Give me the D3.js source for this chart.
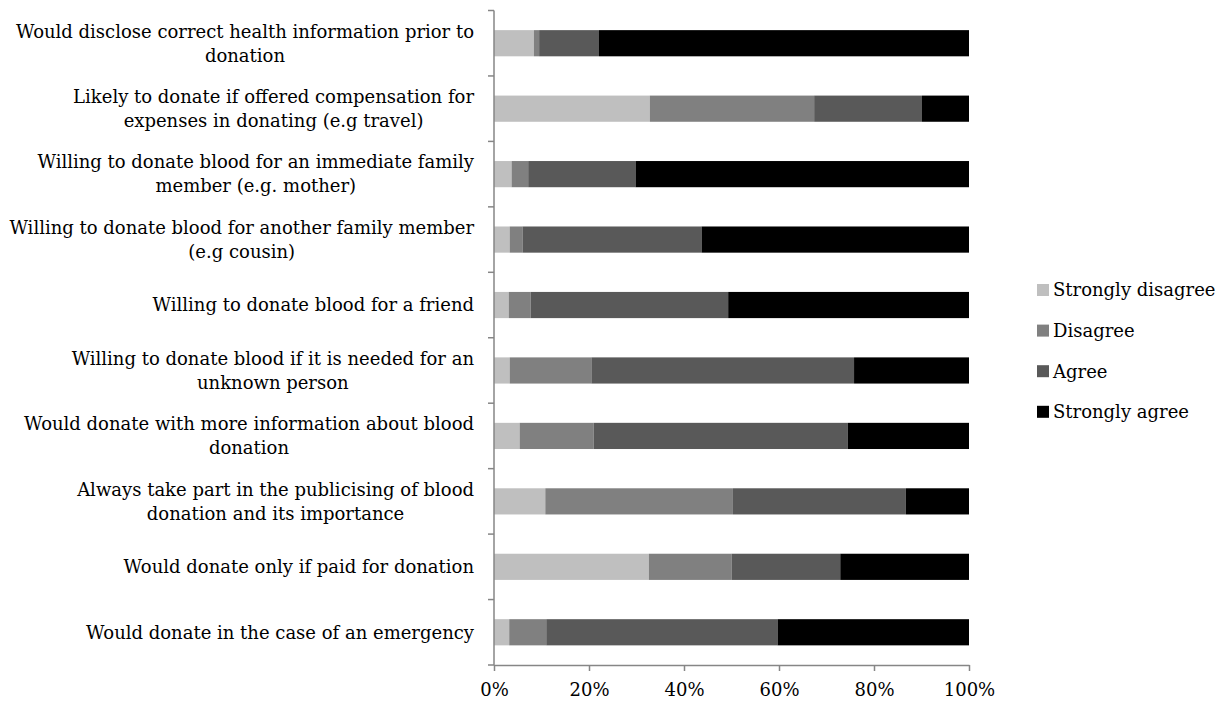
<!DOCTYPE html>
<html><head><meta charset="utf-8">
<script src="https://cdn.jsdelivr.net/npm/d3@7"></script>
<style>body{margin:0;background:#fff}svg{display:block}text{font-family:"DejaVu Serif",serif;fill:#000}</style>
</head><body><svg id="c" width="1223" height="704"></svg>
<script>
const categories = [
  ["Would disclose correct health information prior to","donation"],
  ["Likely to donate if offered compensation for","expenses in donating (e.g travel)"],
  ["Willing to donate blood for an immediate family","member (e.g. mother)"],
  ["Willing to donate blood for another family member","(e.g cousin)"],
  ["Willing to donate blood for a friend"],
  ["Willing to donate blood if it is needed for an","unknown person"],
  ["Would donate with more information about blood","donation"],
  ["Always take part in the publicising of blood","donation and its importance"],
  ["Would donate only if paid for donation"],
  ["Would donate in the case of an emergency"]
];
const seriesNames = ["Strongly disagree","Disagree","Agree","Strongly agree"];
const stronglyDisagree = [8.4,32.8,3.7,3.3,3.1,3.3,5.4,10.8,32.6,3.2];
const disagree         = [1.1,34.6,3.5,2.7,4.6,17.2,15.6,39.5,17.4,7.8];
const agree            = [12.6,22.7,22.6,37.7,41.6,55.3,53.5,36.4,22.9,48.7];
const stronglyAgree    = [77.9,9.9,70.2,56.3,50.7,24.2,25.5,13.3,27.1,40.3];
const xTicks = [0,0.2,0.4,0.6,0.8,1];
const colors = ["#bfbfbf","#808080","#595959","#000000"];

const svg = d3.select("#c");
const x0 = 494, x1 = 969, y0 = 10.5, y1 = 665;
const fs = 18;
const rows = categories.map((c,i)=>{
  const vals=[stronglyDisagree[i],disagree[i],agree[i],stronglyAgree[i]];
  const tot=d3.sum(vals);
  const o={key:i};
  seriesNames.forEach((s,j)=>o[s]=vals[j]/tot);
  return o;
});
const x = d3.scaleLinear().domain([0,1]).range([x0,x1]);
const y = d3.scaleBand().domain(d3.range(categories.length)).range([y0,y1]).paddingInner(0.6).paddingOuter(0.3);
const stack = d3.stack().keys(seriesNames)(rows);

const g = svg.append("g");
stack.forEach((layer,j)=>{
  g.selectAll(null).data(layer).enter().append("rect")
    .attr("x",d=>x(d[0])).attr("width",d=>x(d[1])-x(d[0]))
    .attr("y",(d,i)=>y(i)).attr("height",y.bandwidth())
    .attr("fill",colors[j]);
});

// y axis
const yAxis = svg.append("g");
yAxis.append("line").attr("x1",x0).attr("x2",x0).attr("y1",y0).attr("y2",y1).attr("stroke","#868686").attr("stroke-width",1.5);
const step = (y1-y0)/categories.length;
d3.range(categories.length+1).forEach(k=>{
  yAxis.append("line").attr("x1",x0-6).attr("x2",x0).attr("y1",y0+k*step).attr("y2",y0+k*step).attr("stroke","#868686").attr("stroke-width",1.5);
});
// x axis
const xa = svg.append("g").attr("transform",`translate(0,${y1})`)
  .call(d3.axisBottom(x).tickValues(xTicks).tickFormat(d3.format(".0%")).tickSize(6).tickSizeOuter(0));
xa.select(".domain").attr("stroke","#868686").attr("stroke-width",1.5);
xa.selectAll(".tick line").attr("stroke","#868686").attr("stroke-width",1.5);
xa.selectAll(".tick text").attr("font-size",fs+"px").attr("font-family","DejaVu Serif").attr("fill","#000").attr("dy","1.2em");

// category labels
const lh = 24;
categories.forEach((lines,i)=>{
  const cy = y(i)+y.bandwidth()/2;
  const tg = svg.append("g");
  const ts = lines.map((t,k)=>tg.append("text").attr("font-size",fs+"px").attr("text-anchor","middle")
    .attr("y",cy + (k-(lines.length-1)/2)*lh).attr("dy","0.35em").text(t));
  const mw = d3.max(ts,t=>t.node().getComputedTextLength());
  ts.forEach(t=>t.attr("x",474-mw/2));
});

// legend
const lg = svg.append("g");
seriesNames.forEach((s,j)=>{
  const ly = 290 + j*40.6;
  lg.append("rect").attr("x",1037).attr("y",ly-6).attr("width",12).attr("height",12).attr("fill",colors[j]);
  lg.append("text").attr("x",1053).attr("y",ly).attr("dy","0.35em").attr("font-size",fs+"px").text(s);
});
</script></body></html>
